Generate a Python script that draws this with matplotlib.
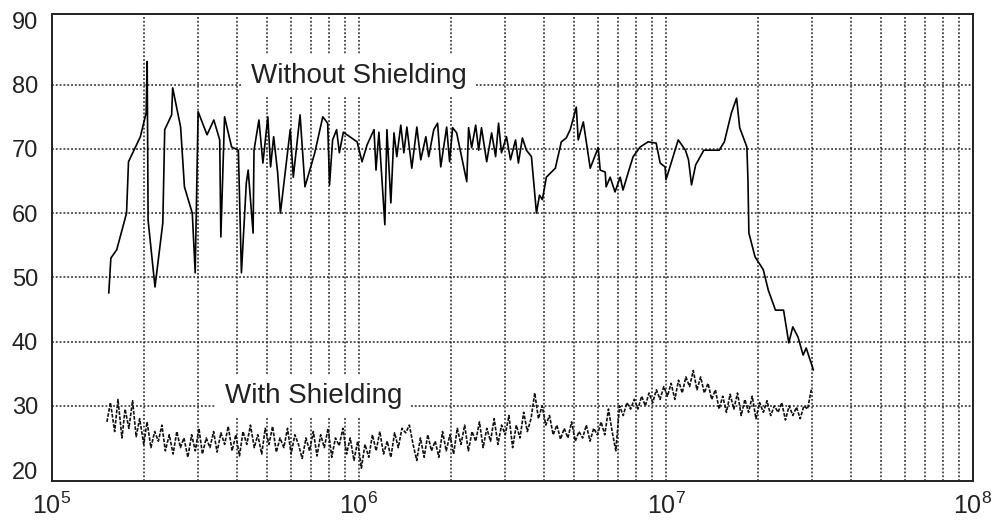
import numpy as np
import matplotlib
matplotlib.use('Agg')
import matplotlib.pyplot as plt
from matplotlib.ticker import LogLocator, NullFormatter

# ---------------- data ----------------
# "Without Shielding" trace: frequency (kHz) and level (dB)
without_freq_khz = [
    153.1, 155.5, 162.5, 174.9, 177.5, 187.1, 194.0, 202.6, 204.2, 205.6,
    216.5, 229.6, 232.9, 245.3, 247.2, 262.4, 270.0, 286.4, 292.7, 299.2,
    319.9, 336.6, 351.8, 354.8, 364.8, 384.6, 404.6, 414.0, 429.5, 435.5,
    451.9, 455.0, 472.1, 486.4, 504.7, 515.2, 527.2, 543.3, 554.6, 597.0,
    610.9, 642.7, 666.8, 717.8, 762.1, 790.7, 801.7, 820.4, 845.3, 863.0,
    889.2, 986, 1023, 1062, 1119, 1136, 1161, 1214, 1233, 1270,
    1300, 1328, 1368, 1400, 1432, 1486, 1543, 1589, 1651, 1687,
    1752, 1803, 1846, 1930, 1973, 2018, 2080, 2158, 2244, 2275,
    2328, 2399, 2454, 2506, 2606, 2704, 2786, 2848, 2911, 3023,
    3115, 3235, 3305, 3406, 3510, 3645, 3785, 3871, 3956, 4077,
    4361, 4560, 4732, 4876, 5103, 5177, 5379, 5665, 6013, 6104,
    6339, 6383, 6577, 6823, 7091, 7244, 7530, 7816, 8238, 8743,
    9290, 9572, 9930, 10000, 10960, 11570, 11840, 12110, 12490, 13280,
    14900, 15490, 16330, 16980, 17380, 18340, 18490, 18620, 19500, 20740,
    21540, 22730, 24150, 25120, 25880, 26920, 27970, 28620, 30200,
]
without_db = [
    47.6, 53.0, 54.3, 60.0, 68.0, 70.3, 71.9, 75.6, 83.6, 58.9,
    48.5, 58.5, 73.0, 75.3, 79.5, 73.4, 64.1, 60.0, 50.7, 75.8,
    72.2, 74.5, 71.4, 56.3, 75.0, 70.3, 69.8, 50.7, 64.7, 66.7,
    56.9, 69.8, 74.5, 67.8, 75.0, 67.2, 71.9, 66.3, 60.0, 73.0,
    65.6, 75.3, 64.1, 69.4, 75.0, 74.0, 64.4, 71.4, 73.0, 69.4,
    72.6, 71.1, 68.0, 70.6, 73.0, 66.7, 72.6, 58.2, 73.0, 61.6,
    72.5, 68.8, 73.7, 69.4, 73.4, 67.0, 73.4, 68.3, 71.9, 68.8,
    73.0, 74.0, 67.2, 73.4, 68.0, 73.3, 72.5, 68.8, 64.9, 73.3,
    70.2, 73.7, 69.8, 73.3, 68.0, 72.5, 68.8, 74.0, 69.4, 71.9,
    68.3, 71.4, 67.8, 71.7, 69.8, 68.8, 60.0, 62.8, 62.1, 65.6,
    67.0, 71.1, 71.7, 73.0, 76.5, 71.4, 74.2, 67.0, 70.2, 66.7,
    66.4, 64.1, 65.6, 63.3, 65.6, 63.6, 66.3, 68.8, 70.3, 71.1,
    70.9, 67.8, 67.2, 65.2, 71.4, 69.8, 68.3, 64.4, 67.5, 69.8,
    69.8, 71.1, 75.6, 77.9, 73.3, 70.3, 65.2, 56.9, 53.2, 51.2,
    48.0, 44.9, 44.9, 39.8, 42.3, 40.7, 37.9, 39.0, 35.6,
]

# "With Shielding" trace: frequency (kHz) and level (dB)
with_freq_khz = [
    151, 155, 160, 164, 169, 173, 178, 183, 188, 193,
    199, 204, 210, 216, 222, 228, 234, 241, 248, 255,
    262, 269, 277, 285, 293, 301, 309, 318, 327, 336,
    345, 355, 365, 375, 386, 397, 408, 419, 431, 443,
    456, 468, 482, 495, 509, 523, 538, 553, 569, 585,
    601, 618, 635, 653, 672, 690, 710, 730, 750, 771,
    793, 815, 838, 862, 886, 911, 936, 963, 990,
    1018, 1046, 1076, 1106, 1137, 1169, 1202, 1236, 1270, 1306,
    1343, 1380, 1419, 1459, 1500, 1542, 1585, 1630, 1675, 1722,
    1771, 1820, 1871, 1924, 1978, 2033, 2090, 2149, 2209, 2271,
    2335, 2400, 2468, 2537, 2608, 2681, 2756, 2834, 2913, 2995,
    3079, 3165, 3254, 3345, 3439, 3535, 3634, 3736, 3841, 3949,
    4059, 4173, 4290, 4411, 4534, 4661, 4792, 4926, 5064, 5206,
    5352, 5502, 5656, 5815, 5978, 6146, 6318, 6495, 6677, 6864,
    7057, 7255, 7458, 7667, 7882, 8103, 8330, 8564, 8804, 9051,
    9305, 9566, 9834,
    10110, 10393, 10685, 10984, 11292, 11609, 11934, 12269, 12613, 12966,
    13330, 13704, 14088, 14483, 14889, 15306, 15735, 16177, 16630, 17097,
    17576, 18069, 18576, 19096, 19632, 20182, 20748, 21330, 21928, 22543,
    23175, 23825, 24493, 25180, 25886, 26612, 27358, 28125, 28914, 29724,
]
with_db = [
    27.5, 30.5, 26.0, 31.0, 25.0, 29.5, 26.5, 30.8, 25.2, 28.0,
    24.0, 27.5, 23.5, 26.0, 24.5, 27.0, 23.0, 25.5, 22.5, 26.0,
    23.5, 25.0, 22.0, 25.5, 23.0, 26.5, 22.5, 25.0, 23.5, 26.0,
    22.8, 25.8, 24.0, 26.8, 23.0, 25.5, 22.2, 26.0, 24.0, 27.0,
    23.5, 25.5, 22.5, 26.5, 24.0, 26.8, 22.8, 25.0, 23.5, 26.5,
    22.5, 25.5, 24.0, 21.8, 25.0, 23.0, 26.0, 22.2, 25.5, 23.5,
    26.5, 22.0, 25.0, 23.8, 26.5, 22.5, 25.0, 21.5, 24.5,
    20.3, 24.0, 22.0, 25.5, 23.0, 26.0, 22.5, 24.5, 22.0, 25.8,
    23.5, 26.5, 25.8, 27.0, 24.0, 21.5, 25.0, 22.0, 25.5, 23.0,
    24.5, 22.0, 26.0, 23.0, 25.5, 22.5, 26.5, 24.0, 27.0, 23.0,
    26.0, 24.5, 27.5, 23.5, 26.5, 24.5, 28.0, 24.0, 27.0, 25.5,
    28.5, 23.5, 27.0, 25.0, 29.0, 26.0, 28.0, 32.0, 28.0, 30.0,
    27.0, 28.5, 25.5, 27.0, 24.8, 26.5, 25.0, 27.5, 24.5, 26.0,
    25.0, 27.0, 24.5, 26.5, 25.5, 27.5, 25.5, 29.5, 26.0, 23.0,
    30.0, 28.5, 30.5, 29.5, 31.0, 29.5, 31.5, 30.0, 32.0, 30.5,
    32.5, 31.0, 33.0,
    31.5, 33.5, 31.0, 34.0, 32.0, 34.5, 33.0, 35.5, 32.5, 34.5,
    32.0, 33.5, 31.0, 32.5, 29.5, 31.5, 29.0, 31.8, 29.5, 32.0,
    28.5, 31.0, 29.0, 31.5, 28.0, 30.5, 29.0, 30.8, 28.5, 30.0,
    29.0, 30.5, 27.8, 30.0, 28.5, 29.8, 28.0, 30.0, 29.5, 32.5,
]

x_ticks = [1e5, 1e6, 1e7, 1e8]
x_tick_labels = [r'$10^{5}$', r'$10^{6}$', r'$10^{7}$', r'$10^{8}$']
y_ticks = [20, 30, 40, 50, 60, 70, 80, 90]

label_without = 'Without Shielding'
label_with = 'With Shielding'

# ---------------- style ----------------
plt.rcParams['font.family'] = ['Liberation Sans', 'DejaVu Sans']
plt.rcParams['mathtext.fontset'] = 'custom'
plt.rcParams['mathtext.rm'] = 'Liberation Sans'
plt.rcParams['mathtext.it'] = 'Liberation Sans:italic'
plt.rcParams['mathtext.bf'] = 'Liberation Sans:bold'

fig = plt.figure(figsize=(10, 5.25), dpi=100)
ax = fig.add_axes([0.052, 0.0838, 0.921, 0.8895])

ax.set_xscale('log')
ax.set_xlim(1e5, 1e8)
ax.set_ylim(18.3, 91.0)

grid_kw = dict(color='#222222', linewidth=1.1, linestyle=(0, (1.2, 1.3)))

# vertical grid (log decades + minor)
ax.xaxis.set_minor_locator(LogLocator(base=10, subs=range(2, 10)))
ax.xaxis.set_minor_formatter(NullFormatter())
ax.grid(True, which='both', axis='x', zorder=1, **grid_kw)
# horizontal grid (interior values only)
for yv in y_ticks[1:-1]:
    ax.axhline(yv, zorder=1, **grid_kw)

ax.set_xticks(x_ticks)
ax.set_xticklabels(x_tick_labels)
ax.set_yticks(y_ticks)
ax.tick_params(axis='both', which='both', length=0)
ax.tick_params(axis='x', labelsize=18, pad=8, labelcolor='#222222')
ax.tick_params(axis='y', labelsize=17, pad=10, labelcolor='#222222')

for sp in ax.spines.values():
    sp.set_linewidth(1.4)
    sp.set_color('#222222')

ax.plot(np.array(without_freq_khz) * 1e3, without_db, color='black',
        linewidth=1.2, zorder=4)
ax.plot(np.array(with_freq_khz) * 1e3, with_db, color='#111111',
        linewidth=1.2, linestyle=(0, (2.2, 0.9)), zorder=4)

ax.text(4.455e5, 80.3, label_without, fontsize=20, ha='left', va='baseline',
        color='#222222',
        bbox=dict(facecolor='white', edgecolor='none', pad=6), zorder=3)
ax.text(3.65e5, 30.4, label_with, fontsize=20, ha='left', va='baseline',
        color='#222222',
        bbox=dict(facecolor='white', edgecolor='none', pad=6), zorder=3)

fig.savefig('out.png', dpi=100, facecolor='white')
